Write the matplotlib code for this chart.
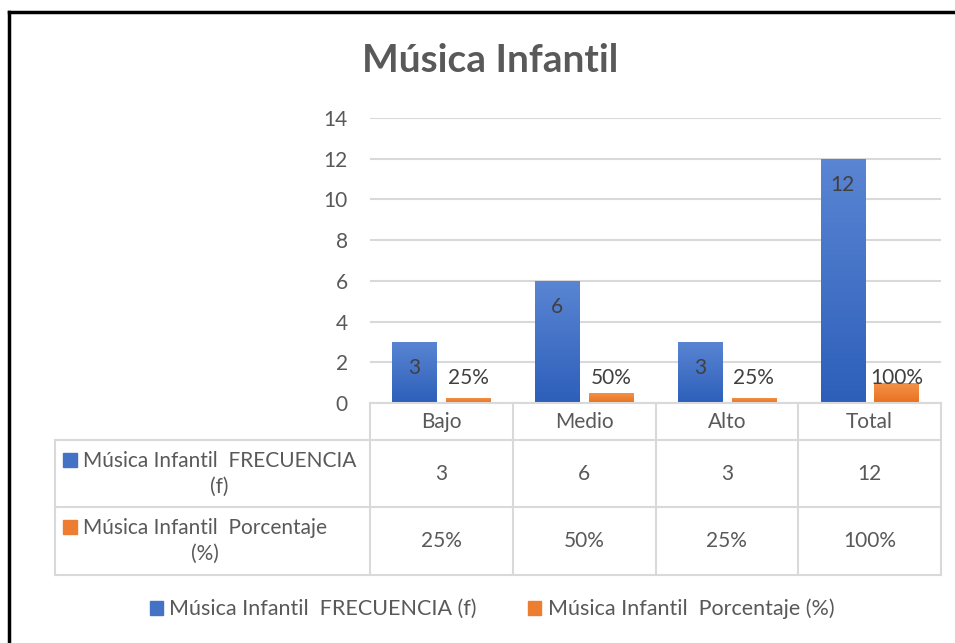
import numpy as np
import matplotlib.pyplot as plt
from matplotlib.patches import Rectangle

# datos de la tabla
categorias = ["Bajo", "Medio", "Alto", "Total"]
frecuencia = [3, 6, 3, 12]
porcentaje = [0.25, 0.50, 0.25, 1.00]
etiquetas_pct = ["25%", "50%", "25%", "100%"]
serie_f = "Música Infantil  FRECUENCIA (f)"
serie_p = "Música Infantil  Porcentaje (%)"
yticks = [0, 2, 4, 6, 8, 10, 12, 14]

W, H = 955, 643
GRIS = "#595959"
LINEA = "#d9d9d9"
AZUL = "#4472C4"
NARANJA = "#ED7D31"
FS = 15

plt.rcParams['font.family'] = ['Lato', 'DejaVu Sans']


def px(x0, y0, x1, y1):
    # caja en pixeles (desde arriba) -> coordenadas de figura
    return [x0 / W, 1 - y1 / H, (x1 - x0) / W, (y1 - y0) / H]


def barra_degradado(ax, bars, c_top, c_bot):
    # relleno con degradado vertical, como en Excel
    grad = np.linspace(0, 1, 100).reshape(-1, 1)
    top = np.array(plt.matplotlib.colors.to_rgb(c_top))
    bot = np.array(plt.matplotlib.colors.to_rgb(c_bot))
    img = top[None, None, :] * (1 - grad[:, :, None]) + bot[None, None, :] * grad[:, :, None]
    for b in bars:
        x, y = b.get_x(), b.get_y()
        w, h = b.get_width(), b.get_height()
        b.set_facecolor("none")
        im = ax.imshow(img, extent=(x, x + w, y, y + h), aspect="auto", zorder=2,
                       origin="upper")
        im.set_clip_path(b)


fig = plt.figure(figsize=(W / 100, H / 100), dpi=100)

ax = fig.add_axes(px(370, 118, 941, 403))
x = np.arange(len(categorias))
ancho = 0.31
off = 0.1875

b1 = ax.bar(x - off, frecuencia, ancho, color=AZUL, zorder=2, linewidth=0)
b2 = ax.bar(x + off, porcentaje, ancho, color=NARANJA, zorder=2, linewidth=0)
barra_degradado(ax, b1, "#5a85d3", "#2d5fba")
barra_degradado(ax, b2, "#f4944c", "#e8711f")

ax.set_xlim(-0.5, len(categorias) - 0.5)
ax.set_ylim(0, 14)
ax.set_yticks(yticks)
ax.set_xticks([])
ax.tick_params(axis="y", length=0, pad=16, labelsize=FS, labelcolor=GRIS)
for s in ax.spines.values():
    s.set_visible(False)
ax.grid(axis="y", color=LINEA, linewidth=1.5, zorder=0)
ax.set_axisbelow(True)

for xi, v in zip(x, frecuencia):
    ax.annotate(str(v), (xi - off, v), xytext=(0, -19), textcoords="offset points",
                ha="center", va="center", fontsize=FS, color="#404040", zorder=5)
for xi, lab in zip(x, etiquetas_pct):
    ax.annotate(lab, (xi + off, 0), xytext=(0, 18), textcoords="offset points",
                ha="center", va="center", fontsize=FS, color="#404040", zorder=5)

# tabla de datos debajo del eje
tax = fig.add_axes(px(55, 403, 941, 576))
cat_w = (941 - 370) / len(categorias)
x_left = -0.5 - (370 - 55) / cat_w
tax.set_xlim(x_left, len(categorias) - 0.5)
tax.set_ylim(173, 0)
tax.axis("off")
filas = [0, 37, 104, 172]
kw = dict(color=LINEA, linewidth=1.5, clip_on=False)
tax.plot([-0.5, len(categorias) - 0.5], [filas[0]] * 2, **kw)
for yy in filas[1:]:
    tax.plot([x_left, len(categorias) - 0.5], [yy, yy], **kw)
for i in range(len(categorias) + 1):
    tax.plot([i - 0.5, i - 0.5], [filas[0], filas[-1]], **kw)
tax.plot([x_left, x_left], [filas[1], filas[-1]], **kw)

for i, c in enumerate(categorias):
    tax.text(i, (filas[0] + filas[1]) / 2, c, ha="center", va="center",
             fontsize=FS, color=GRIS)
    tax.text(i, (filas[1] + filas[2]) / 2, str(frecuencia[i]), ha="center",
             va="center", fontsize=FS, color=GRIS)
    tax.text(i, (filas[2] + filas[3]) / 2, etiquetas_pct[i], ha="center",
             va="center", fontsize=FS, color=GRIS)

# etiquetas de fila con marcador
nombres = [serie_f.replace(" (f)", "\n(f)"), serie_p.replace(" (%)", "\n(%)")]
colores = [AZUL, NARANJA]
for k in range(2):
    y0 = filas[k + 1]
    fig.text(83 / W, 1 - (y0 + 403 + 11) / H, nombres[k], ha="left", va="top",
             multialignment="center", fontsize=FS, color=GRIS, linespacing=1.35)
    fig.add_artist(Rectangle((63 / W, 1 - (y0 + 403 + 27) / H), 14 / W, 14 / H,
                             transform=fig.transFigure, color=colores[k]))

# titulo
fig.text(490 / W, 1 - 61 / H, "Música Infantil", ha="center", va="center",
         fontsize=28, fontweight="bold", color=GRIS)

# leyenda
h1 = Rectangle((0, 0), 1, 1, color=AZUL)
h2 = Rectangle((0, 0), 1, 1, color=NARANJA)
fig.legend([h1, h2], [serie_f, serie_p], loc="center", ncol=2,
           bbox_to_anchor=(492 / W, 1 - 609 / H), frameon=False, fontsize=15.5,
           labelcolor=GRIS, handlelength=0.6, handleheight=0.6, handletextpad=0.3,
           columnspacing=2.4)

# borde negro del grafico
fig.add_artist(plt.Line2D([9 / W, 9 / W], [0, 1 - 12 / H], color="black",
                          linewidth=2.5, transform=fig.transFigure))
fig.add_artist(plt.Line2D([9 / W, 1], [1 - 12 / H, 1 - 12 / H], color="black",
                          linewidth=2.5, transform=fig.transFigure))

fig.savefig("out.png", dpi=100)
